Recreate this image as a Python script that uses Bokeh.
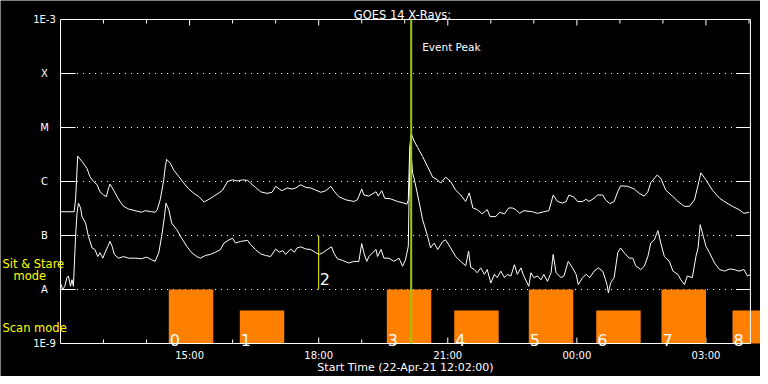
import numpy as np
import pandas as pd
from bokeh.plotting import figure
from bokeh.models import ColumnDataSource, Label, Range1d
from bokeh.core.properties import value
from bokeh.embed import file_html
from bokeh.resources import INLINE

# ---------------- data ----------------
t0 = pd.Timestamp("2021-04-22 12:00")
data_end = pd.Timestamp("2021-04-23 04:02")

# GOES 14 long channel (1-8 A), minutes after 12:00 and log10 flux
long_minutes = [0, 19, 21, 24, 30, 37, 41, 46, 51, 55, 60, 64, 67, 69, 74, 79, 83, 88, 95, 104,
                113, 118, 127, 132, 135, 139, 144, 146, 148, 153, 158, 165, 172, 179, 186, 193,
                200, 207, 214, 221, 226, 233, 240, 247, 254, 261, 265, 272, 279, 288, 295, 300,
                305, 309, 316, 323, 328, 335, 342, 349, 356, 363, 370, 377, 381, 388, 398, 409,
                414, 420, 423, 430, 440, 443, 448, 452, 460, 470, 479, 483, 485, 487, 489, 493,
                498, 505, 512, 519, 526, 530, 537, 544, 551, 558, 565, 570, 575, 581, 588, 595,
                599, 607, 612, 619, 625, 630, 635, 640, 646, 658, 665, 674, 681, 687, 693, 700,
                705, 709, 716, 721, 728, 733, 737, 744, 749, 756, 760, 766, 772, 777, 781, 791,
                800, 807, 814, 819, 823, 832, 837, 844, 854, 861, 870, 877, 884, 888, 893, 900,
                909, 919, 928, 937, 946, 953, 960]
long_log10 = [-6.56, -6.56, -6.34, -5.53, -5.63, -5.76, -5.91, -6.00, -6.06, -6.19, -6.25, -6.28,
              -6.12, -6.05, -6.16, -6.28, -6.37, -6.46, -6.51, -6.54, -6.57, -6.54, -6.56, -6.57,
              -6.52, -6.34, -5.97, -5.73, -5.59, -5.66, -5.79, -5.91, -6.03, -6.14, -6.22, -6.28,
              -6.38, -6.33, -6.27, -6.21, -6.16, -6.00, -5.97, -5.99, -5.97, -5.98, -6.03, -6.11,
              -6.19, -6.22, -6.20, -6.09, -6.14, -6.17, -6.12, -6.14, -6.12, -6.06, -6.11, -6.12,
              -6.16, -6.20, -6.17, -6.09, -6.17, -6.28, -6.34, -6.37, -6.34, -6.14, -6.25, -6.27,
              -6.19, -6.27, -6.17, -6.31, -6.32, -6.37, -6.40, -6.42, -6.34, -5.36, -5.11, -5.25,
              -5.37, -5.54, -5.73, -5.92, -5.97, -6.03, -5.92, -6.00, -6.16, -6.25, -6.37, -6.21,
              -6.49, -6.52, -6.60, -6.52, -6.65, -6.65, -6.57, -6.60, -6.49, -6.49, -6.52, -6.59,
              -6.54, -6.56, -6.59, -6.56, -6.54, -6.25, -6.37, -6.40, -6.37, -6.25, -6.29, -6.37,
              -6.37, -6.33, -6.37, -6.31, -6.25, -6.25, -6.34, -6.41, -6.37, -6.19, -6.08, -6.09,
              -6.14, -6.22, -6.27, -6.19, -6.02, -5.88, -5.94, -6.16, -6.28, -6.37, -6.46, -6.46,
              -6.34, -6.12, -5.84, -5.97, -6.16, -6.31, -6.39, -6.46, -6.52, -6.59, -6.57]

# GOES 14 short channel (0.5-4 A)
short_minutes = [0, 3, 6, 9, 11, 14, 16, 18, 21, 23, 25, 28, 30, 35, 39, 44, 48, 52, 55, 59, 62,
                 66, 69, 72, 75, 81, 88, 95, 104, 113, 120, 127, 132, 137, 141, 145, 147, 151, 155,
                 162, 169, 176, 183, 190, 195, 202, 209, 216, 223, 228, 235, 240, 244, 251, 261,
                 265, 272, 279, 286, 293, 300, 305, 310, 314, 321, 326, 330, 335, 342, 349, 356,
                 361, 367, 372, 378, 381, 386, 393, 402, 409, 416, 420, 423, 427, 430, 435, 440,
                 442, 447, 451, 458, 465, 472, 477, 481, 485, 486, 488, 491, 493, 498, 505, 512,
                 516, 521, 526, 533, 537, 544, 551, 558, 565, 569, 572, 577, 581, 586, 591, 595,
                 600, 605, 609, 614, 619, 623, 628, 633, 637, 642, 646, 653, 656, 660, 665, 670,
                 674, 679, 684, 687, 691, 698, 702, 708, 714, 719, 722, 728, 733, 738, 744, 750,
                 756, 760, 762, 764, 767, 772, 777, 781, 786, 793, 798, 802, 809, 814, 819, 823,
                 828, 833, 837, 842, 849, 854, 861, 865, 870, 874, 881, 886, 889, 892, 895, 900,
                 905, 912, 919, 926, 933, 939, 946, 953, 958, 962]
short_log10 = [-7.88, -8.00, -7.94, -7.78, -7.75, -7.94, -7.82, -7.94, -7.02, -6.59, -6.40, -6.49,
               -6.65, -6.77, -7.02, -7.23, -7.26, -7.39, -7.32, -7.42, -7.32, -7.20, -7.11, -7.20,
               -7.35, -7.42, -7.39, -7.42, -7.42, -7.43, -7.40, -7.45, -7.48, -7.32, -7.02, -6.65,
               -6.40, -6.52, -6.77, -6.89, -7.05, -7.20, -7.32, -7.39, -7.42, -7.37, -7.35, -7.31,
               -7.26, -7.14, -7.08, -7.05, -7.14, -7.11, -7.09, -7.17, -7.26, -7.34, -7.37, -7.39,
               -7.25, -7.31, -7.28, -7.35, -7.25, -7.31, -7.23, -7.21, -7.25, -7.26, -7.32, -7.35,
               -7.31, -7.26, -7.21, -7.32, -7.43, -7.46, -7.51, -7.48, -7.48, -7.15, -7.32, -7.48,
               -7.39, -7.32, -7.26, -7.39, -7.26, -7.42, -7.42, -7.48, -7.42, -7.57, -7.45, -7.20,
               -6.34, -5.33, -5.85, -5.94, -6.25, -6.71, -7.02, -7.23, -7.14, -7.26, -7.11, -7.08,
               -7.23, -7.39, -7.48, -7.56, -7.29, -7.59, -7.63, -7.69, -7.60, -7.72, -7.63, -7.88,
               -7.72, -7.78, -7.66, -7.78, -7.72, -7.75, -7.54, -7.72, -7.60, -7.75, -7.94, -7.69,
               -7.78, -7.75, -7.82, -7.72, -7.85, -7.69, -7.35, -7.69, -7.78, -7.75, -7.48, -7.60,
               -7.72, -7.91, -7.78, -7.72, -7.78, -7.66, -7.60, -7.66, -7.82, -7.91, -8.06, -7.88,
               -7.78, -7.32, -7.23, -7.32, -7.42, -7.42, -7.56, -7.63, -7.57, -7.39, -7.14, -7.08,
               -6.91, -7.14, -7.39, -7.48, -7.66, -7.72, -7.82, -7.91, -7.75, -7.78, -7.39, -7.23,
               -6.80, -6.95, -7.20, -7.32, -7.51, -7.63, -7.66, -7.62, -7.63, -7.66, -7.63, -7.75,
               -7.72]

# scans
scan_labels = ["0", "1", "3", "4", "5", "6", "7", "8"]
scan_start_minutes = [151, 250, 455, 549, 653, 747, 838, 937]
scan_length_minutes = 62
scan_top = [1e-8, 4.1e-9, 1e-8, 4.1e-9, 1e-8, 4.1e-9, 1e-8, 4.1e-9]
stare_label = "2"
stare_time = pd.Timestamp("2021-04-22 18:00")
stare_low, stare_high = 1e-8, 1e-7
event_peak_time = pd.Timestamp("2021-04-22 20:09")

y_ticks = [1e-9, 1e-8, 1e-7, 1e-6, 1e-5, 1e-4, 1e-3]
y_tick_labels = ["1E-9", "A", "B", "C", "M", "X", "1E-3"]
grid_levels = [1e-8, 1e-7, 1e-6, 1e-5, 1e-4]
x_tick_times = ["2021-04-22 15:00", "2021-04-22 18:00", "2021-04-22 21:00",
                "2021-04-23 00:00", "2021-04-23 03:00"]
x_tick_labels = ["15:00", "18:00", "21:00", "00:00", "03:00"]

title_text = "GOES 14 X-Rays:"
xlabel_text = "Start Time (22-Apr-21 12:02:00)"

# ---------------- layout constants ----------------
FONT = "DejaVu Sans"
WHITE = "white"
YEL = "#ffff00"
W, H = 760, 376
PX_PER_DECADE = 54.0
PX_PER_HOUR = 43.03
LEFT_PX, TOP_PX, BOTTOM_PX = 60, 19, 343


def dt(values):
    return pd.to_datetime(values).values


# the plot frame fills the whole canvas; the box is drawn inside it
x_lo = t0 - pd.Timedelta(hours=LEFT_PX / PX_PER_HOUR)
x_hi = x_lo + pd.Timedelta(hours=W / PX_PER_HOUR)
y_hi = y_ticks[-1] * 10 ** (TOP_PX / PX_PER_DECADE)
y_lo = y_ticks[0] * 10 ** (-(H - BOTTOM_PX) / PX_PER_DECADE)

p = figure(width=W, height=H, output_backend="svg", toolbar_location=None, title=None,
           x_axis_type="datetime", y_axis_type="log",
           x_range=Range1d(x_lo, x_hi), y_range=Range1d(y_lo, y_hi),
           background_fill_color="black", border_fill_color="black",
           outline_line_color=None,
           min_border_left=0, min_border_right=0, min_border_top=0, min_border_bottom=0)
p.xgrid.visible = False
p.ygrid.visible = False
p.xaxis.visible = False
p.yaxis.visible = False

# time ticks on bottom and top edges of the box
hour_times = pd.date_range("2021-04-22 13:00", "2021-04-23 04:00", freq="h")
is_major = [t.strftime("%Y-%m-%d %H:%M") in x_tick_times for t in hour_times]
tick_len = [6 if m else 4 for m in is_major]
ht = dt(list(hour_times))
bot, top = y_ticks[0], y_ticks[-1]
p.segment(x0=ht, x1=ht, y0=[bot] * len(ht),
          y1=[bot * 10 ** (L / PX_PER_DECADE) for L in tick_len], line_color=WHITE)
p.segment(x0=ht, x1=ht, y0=[top] * len(ht),
          y1=[top * 10 ** (-L / PX_PER_DECADE) for L in tick_len], line_color=WHITE)

# class levels: solid ticks at both sides, dotted between
n = len(grid_levels)
p.segment(x0=dt([t0] * n), x1=dt([t0 + pd.Timedelta(minutes=21)] * n),
          y0=grid_levels, y1=grid_levels, line_color=WHITE, line_width=1)
p.segment(x0=dt([t0 + pd.Timedelta(minutes=23)] * n),
          x1=dt([data_end - pd.Timedelta(minutes=21)] * n),
          y0=grid_levels, y1=grid_levels, line_color=WHITE, line_dash="1 5", line_width=1)
p.segment(x0=dt([data_end - pd.Timedelta(minutes=20)] * n), x1=dt([data_end] * n),
          y0=grid_levels, y1=grid_levels, line_color=WHITE, line_width=1)

# scan bars
scan_left = t0 + pd.to_timedelta(scan_start_minutes, unit="m")
scan_right = scan_left + pd.Timedelta(minutes=scan_length_minutes)
scan_src = ColumnDataSource(dict(left=scan_left.values, right=scan_right.values,
                                 top=scan_top, bottom=[bot] * len(scan_top),
                                 label=scan_labels))
p.quad(left="left", right="right", top="top", bottom="bottom", source=scan_src,
       fill_color="#ff8000", line_color=None)
p.text(x="left", y="bottom", text="label", source=scan_src, text_color=WHITE,
       text_font=value(FONT), text_font_size="16px", text_baseline="alphabetic",
       x_offset=1, y_offset=-4)

# x-ray curves
long_t = (t0 + pd.to_timedelta(long_minutes, unit="m")).values
short_t = (t0 + pd.to_timedelta(short_minutes, unit="m")).values
p.line(long_t, np.power(10.0, long_log10), line_color=WHITE, line_width=1)
p.line(short_t, np.power(10.0, short_log10), line_color=WHITE, line_width=1)

# sit & stare marker
p.segment(x0=dt([stare_time]), x1=dt([stare_time]), y0=[stare_low], y1=[stare_high],
          line_color=YEL, line_width=1)
p.text(x=dt([stare_time]), y=[stare_low], text=[stare_label], text_color=WHITE,
       text_font=value(FONT), text_font_size="16px", text_baseline="alphabetic",
       x_offset=1, y_offset=-11)

# box (left, top, bottom, right)
p.segment(x0=dt([t0, t0, t0, data_end]), x1=dt([t0, data_end, data_end, data_end]),
          y0=[bot, top, bot, bot], y1=[top, top, bot, top], line_color=WHITE, line_width=1)

# event peak
p.segment(x0=dt([event_peak_time]), x1=dt([event_peak_time]), y0=[bot], y1=[top],
          line_color="#99cc00", line_width=2)
p.text(x=dt([event_peak_time]), y=[top], text=["Event Peak"], text_color=WHITE,
       text_font=value(FONT), text_font_size="10.5px", text_baseline="alphabetic",
       x_offset=11, y_offset=27)

# time tick labels
p.text(x=dt(x_tick_times), y=[bot] * len(x_tick_times), text=x_tick_labels,
       text_color=WHITE, text_font=value(FONT), text_font_size="10px",
       text_align="center", text_baseline="middle", y_offset=12)

# flux tick labels, centred in the left margin
p.text(x=dt([t0] * len(y_ticks)), y=y_ticks, text=y_tick_labels, text_color=WHITE,
       text_font=value(FONT), text_font_size="10px", text_align="center",
       text_baseline="middle", x_offset=-16)

# title, axis title and side notes (screen units: from the canvas' left and bottom)
p.add_layout(Label(x=402, y=362, x_units="screen", y_units="screen", text=title_text,
                   text_color=WHITE, text_font=FONT, text_font_size="11.5px",
                   text_align="center", text_baseline="alphabetic"))
p.add_layout(Label(x=405, y=9, x_units="screen", y_units="screen", text=xlabel_text,
                   text_color=WHITE, text_font=FONT, text_font_size="11px",
                   text_align="center", text_baseline="alphabetic"))
p.add_layout(Label(x=2, y=113, x_units="screen", y_units="screen", text="Sit & Stare",
                   text_color=YEL, text_font=FONT, text_font_size="11.5px",
                   text_baseline="alphabetic"))
p.add_layout(Label(x=13, y=101, x_units="screen", y_units="screen", text="mode",
                   text_color=YEL, text_font=FONT, text_font_size="11.5px",
                   text_baseline="alphabetic"))
p.add_layout(Label(x=2, y=49, x_units="screen", y_units="screen", text="Scan mode",
                   text_color=YEL, text_font=FONT, text_font_size="11.5px",
                   text_baseline="alphabetic"))

open("out.html", "w").write(file_html(p, INLINE))
